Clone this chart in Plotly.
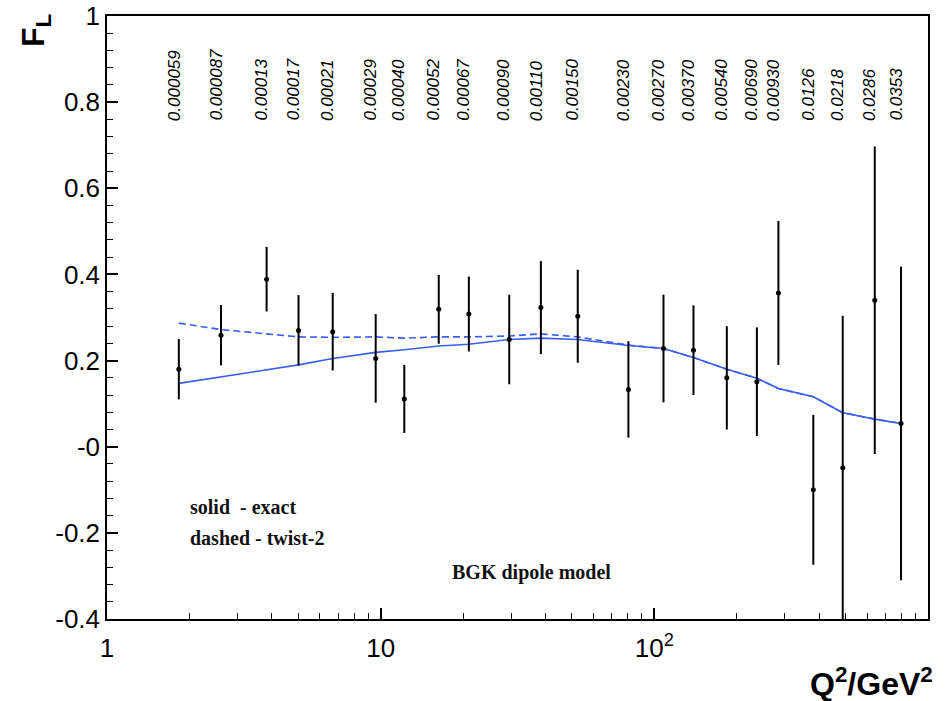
import numpy as np
import plotly.graph_objects as go

# ---- data ----
q2 = [1.83, 2.61, 3.83, 5.01, 6.68, 9.59, 12.2, 16.3, 21.0, 29.5, 38.5,
      52.5, 80.4, 108, 139, 184, 237, 284, 381, 488, 639, 797]
fl = [0.180, 0.259, 0.389, 0.270, 0.267, 0.205, 0.111, 0.319, 0.308, 0.249, 0.323,
      0.303, 0.133, 0.228, 0.224, 0.160, 0.151, 0.357, -0.100, -0.049, 0.340, 0.054]
fl_err = [0.070, 0.070, 0.075, 0.082, 0.090, 0.103, 0.079, 0.080, 0.087, 0.104, 0.108,
          0.108, 0.112, 0.125, 0.104, 0.120, 0.126, 0.167, 0.174, 0.353, 0.357, 0.364]
fl_exact = [0.147, 0.162, 0.178, 0.190, 0.205, 0.219, 0.225, 0.234, 0.238, 0.249, 0.252,
            0.249, 0.235, 0.228, 0.207, 0.180, 0.159, 0.135, 0.116, 0.079, 0.064, 0.054]
fl_twist2 = [0.287, 0.272, 0.262, 0.255, 0.254, 0.255, 0.252, 0.255, 0.255, 0.257, 0.262,
             0.255, 0.236, 0.228, 0.207, 0.180, 0.159, 0.135, 0.116, 0.079, 0.064, 0.054]
x_labels = ["0.000059", "0.000087", "0.00013", "0.00017", "0.00021", "0.00029",
            "0.00040", "0.00052", "0.00067", "0.00090", "0.00110", "0.00150",
            "0.00230", "0.00270", "0.00370", "0.00540", "0.00690", "0.00930",
            "0.0126", "0.0218", "0.0286", "0.0353"]
y_tickvals = [-0.4, -0.2, 0.0, 0.2, 0.4, 0.6, 0.8, 1.0]
y_ticktext = ["-0.4", "-0.2", "-0", "0.2", "0.4", "0.6", "0.8", "1"]
x_tickvals = [1, 10, 100]
x_ticktext = ["1", "10", "10<sup>2</sup>"]

# the page's body margin is removed below, so the figure fills the window
W, H = 945, 701
PL, PR, PT, PB = 107, 928, 16, 619          # plot frame in window pixels
L, T = PL, PT
R, B = W - PR, H - PB


def px(sx):
    return (sx - PL) / (PR - PL)


def py(sy):
    return (PB - sy) / (PB - PT)


BLUE = "#3a5ff0"
SANS = "Liberation Sans, Arial, sans-serif"
SERIF = "Liberation Serif, Times New Roman, serif"

fig = go.Figure()
fig.add_trace(go.Scatter(x=q2, y=fl_twist2, mode="lines",
                         line=dict(color=BLUE, width=1.6, dash="7px,4px"),
                         showlegend=False))
fig.add_trace(go.Scatter(x=q2, y=fl_exact, mode="lines",
                         line=dict(color=BLUE, width=1.6),
                         showlegend=False))
fig.add_trace(go.Scatter(x=q2, y=fl, mode="markers",
                         marker=dict(color="black", size=5),
                         error_y=dict(type="data", array=fl_err, color="black",
                                      thickness=2, width=0),
                         showlegend=False, cliponaxis=True))

minor_x = [m * d for d in (1, 10, 100) for m in range(2, 10)]

fig.update_xaxes(type="log", range=[0, 3], tickmode="array",
                 tickvals=x_tickvals, ticktext=x_ticktext, automargin=False,
                 ticklabeloverflow="allow",
                 ticks="inside", ticklen=11, tickwidth=1.5, tickcolor="black",
                 showline=True, linecolor="black", linewidth=1.5, mirror=True,
                 showgrid=False, zeroline=False,
                 tickfont=dict(family=SANS, size=26, color="black"),
                 ticklabelstandoff=5,
                 minor=dict(tickmode="array", tickvals=minor_x, ticks="inside",
                            ticklen=6, tickwidth=1.2, tickcolor="black",
                            showgrid=False))
fig.update_yaxes(range=[-0.4, 1.0], tickmode="array",
                 tickvals=y_tickvals, ticktext=y_ticktext, automargin=False,
                 ticklabeloverflow="allow",
                 ticks="inside", ticklen=11, tickwidth=1.5, tickcolor="black",
                 showline=True, linecolor="black", linewidth=1.5, mirror=True,
                 showgrid=False, zeroline=False,
                 tickfont=dict(family=SANS, size=26, color="black"),
                 minor=dict(dtick=0.04, ticks="inside", ticklen=6, tickwidth=1.2,
                            tickcolor="black", showgrid=False))

annotations = []
for q, lab in zip(q2, x_labels):
    annotations.append(dict(x=np.log10(q), y=0.752, xref="x", yref="y",
                            text=lab, textangle=-90, showarrow=False,
                            xanchor="center", yanchor="bottom", xshift=-5,
                            font=dict(family=SANS, size=17, color="black",
                                      style="italic")))

annotations += [
    dict(x=px(188), y=py(507), xref="paper", yref="paper", text="solid  - exact",
         showarrow=False, xanchor="left", yanchor="middle",
         font=dict(family=SERIF, size=20, color="#111111", weight="bold")),
    dict(x=px(188), y=py(538), xref="paper", yref="paper", text="dashed - twist-2",
         showarrow=False, xanchor="left", yanchor="middle",
         font=dict(family=SERIF, size=20, color="#111111", weight="bold")),
    dict(x=px(450), y=py(572), xref="paper", yref="paper", text="BGK dipole model",
         showarrow=False, xanchor="left", yanchor="middle",
         font=dict(family=SERIF, size=20, color="#111111", weight="bold")),
    dict(x=px(35), y=py(31), xref="paper", yref="paper", text="F<sub>L</sub>",
         textangle=-90, showarrow=False, xanchor="center", yanchor="middle",
         font=dict(family=SANS, size=32, color="black", weight="bold")),
    dict(x=px(935), y=py(682), xref="paper", yref="paper",
         text="Q<sup>2</sup>/GeV<sup>2</sup>",
         showarrow=False, xanchor="right", yanchor="middle",
         font=dict(family=SANS, size=32, color="black", weight="bold")),
]

fig.update_layout(width=W, height=H, margin=dict(l=L, r=R, t=T, b=B),
                  paper_bgcolor="white", plot_bgcolor="white",
                  annotations=annotations, showlegend=False)

fig.write_html("out.html",
               config={"displayModeBar": False},
               post_script="document.body.style.margin='0';"
                           "document.body.style.overflow='hidden';")
